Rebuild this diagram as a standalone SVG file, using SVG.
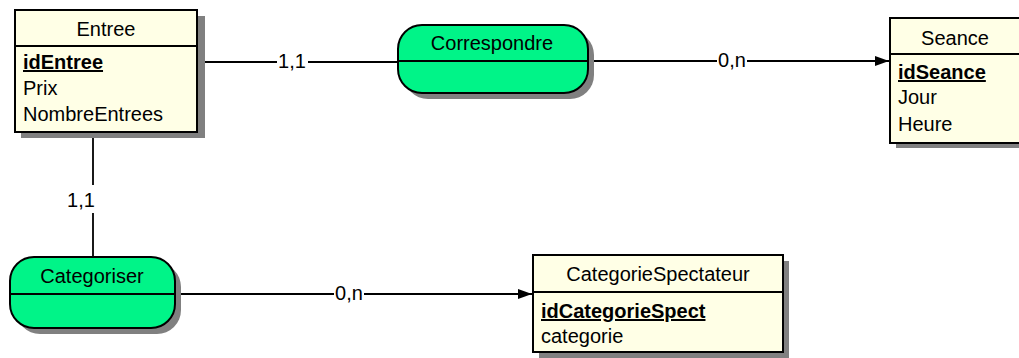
<svg xmlns="http://www.w3.org/2000/svg" width="1019" height="358" viewBox="0 0 1019 358">
<style>
text{font-family:"Liberation Sans",Arial,sans-serif;font-size:20px;fill:#000}
.c{text-anchor:middle}
.k{font-weight:bold;text-decoration:underline}
.ent{fill:#ffffe6;stroke:#000;stroke-width:2}
.rel{fill:#00f488;stroke:#000;stroke-width:2}
.sh{fill:#808080}
.dv{stroke:#000;stroke-width:2}
.ln{stroke:#000;stroke-width:1.8;fill:none}
</style>
<defs>
<marker id="arr" markerWidth="15" markerHeight="11" refX="14" refY="5.5" orient="auto" markerUnits="userSpaceOnUse">
<path d="M0,0.5 L14,5.5 L0,10.5 Z" fill="#000"/>
</marker>
</defs>
<g id="connectors">
<line class="ln" x1="205" y1="62" x2="277" y2="62"/>
<line class="ln" x1="308" y1="62" x2="398" y2="62"/>
<text class="c" x="292" y="68">1,1</text>
<line class="ln" x1="594" y1="61" x2="717" y2="61"/>
<line class="ln" x1="747" y1="61" x2="889" y2="61" marker-end="url(#arr)"/>
<text class="c" x="732" y="67">0,n</text>
<line class="ln" x1="93" y1="138" x2="93" y2="185"/>
<line class="ln" x1="93" y1="213" x2="93" y2="258"/>
<text class="c" x="81" y="207">1,1</text>
<line class="ln" x1="181" y1="294" x2="334" y2="294"/>
<line class="ln" x1="364" y1="294" x2="532" y2="294" marker-end="url(#arr)"/>
<text class="c" x="349" y="300">0,n</text>
</g>
<g id="Entree">
<rect class="sh" x="21" y="16" width="184" height="122"/>
<rect class="ent" x="15" y="10" width="182" height="122"/>
<line class="dv" x1="15" y1="46" x2="197" y2="46"/>
<text class="c" x="106" y="36">Entree</text>
<text class="k" x="23" y="69">idEntree</text>
<text x="23" y="95">Prix</text>
<text x="23" y="121">NombreEntrees</text>
</g>
<g id="Correspondre">
<rect class="sh" x="404" y="31" width="190" height="68" rx="24"/>
<rect class="rel" x="398" y="25" width="190" height="68" rx="24"/>
<line class="dv" x1="398" y1="61" x2="588" y2="61"/>
<text class="c" x="492" y="50">Correspondre</text>
</g>
<g id="Seance">
<rect class="sh" x="896" y="24" width="140" height="124"/>
<rect class="ent" x="890" y="18" width="140" height="125"/>
<line class="dv" x1="890" y1="54" x2="1030" y2="54"/>
<text class="c" x="955" y="45">Seance</text>
<text class="k" x="898" y="79">idSeance</text>
<text x="898" y="104">Jour</text>
<text x="898" y="131">Heure</text>
</g>
<g id="Categoriser">
<rect class="sh" x="16" y="263" width="165" height="71" rx="24"/>
<rect class="rel" x="10" y="257" width="165" height="71" rx="24"/>
<line class="dv" x1="10" y1="294" x2="175" y2="294"/>
<text class="c" x="92" y="283">Categoriser</text>
</g>
<g id="CategorieSpectateur">
<rect class="sh" x="539" y="261" width="250" height="97"/>
<rect class="ent" x="533" y="255" width="250" height="97"/>
<line class="dv" x1="533" y1="292" x2="783" y2="292"/>
<text class="c" x="658" y="281">CategorieSpectateur</text>
<text class="k" x="541" y="318">idCategorieSpect</text>
<text x="541" y="343">categorie</text>
</g>
</svg>
